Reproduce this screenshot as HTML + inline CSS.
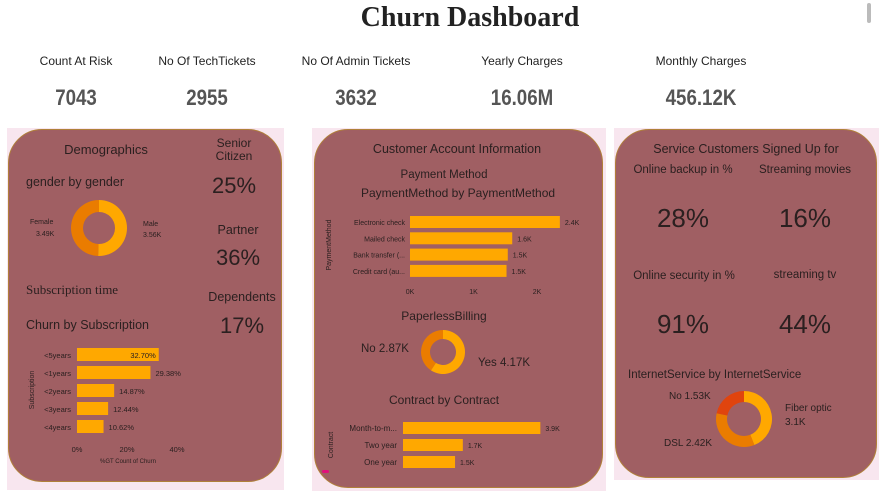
<!DOCTYPE html>
<html><head><meta charset="utf-8">
<style>
body{margin:0;width:887px;height:498px;background:#fff;position:relative;overflow:hidden;font-family:"Liberation Sans",sans-serif;color:#2a2020}
.a{position:absolute;white-space:nowrap}
.c{transform:translateX(-50%)}
.bg{position:absolute;background:#f8e6ef}
.card{position:absolute;background:#a05f63;border:1.5px solid #b0803a;border-radius:34px;box-sizing:border-box}
.kl{font-size:12px;color:#222}
.kv{font-size:22px;font-weight:bold;color:#555;transform:translateX(-50%) scaleX(0.85)}
.big{font-size:22px;color:#2b2020}
.h{font-size:12.5px;color:#2b2020}
svg text{font-family:"Liberation Sans",sans-serif}
</style></head><body>
<div class="a c" style="left:470px;top:2px;font-family:'Liberation Serif',serif;font-weight:bold;font-size:28px;color:#222">Churn Dashboard</div>
<div class="a" style="left:867px;top:3px;width:4px;height:20px;background:#bbb;border-radius:2px"></div>

<div class="a c kl" style="left:76px;top:54px">Count At Risk</div>
<div class="a kv" style="left:76px;top:85px">7043</div>
<div class="a c kl" style="left:207px;top:54px">No Of TechTickets</div>
<div class="a kv" style="left:207px;top:85px">2955</div>
<div class="a c kl" style="left:356px;top:54px">No Of Admin Tickets</div>
<div class="a kv" style="left:356px;top:85px">3632</div>
<div class="a c kl" style="left:522px;top:54px">Yearly Charges</div>
<div class="a kv" style="left:522px;top:85px">16.06M</div>
<div class="a c kl" style="left:701px;top:54px">Monthly Charges</div>
<div class="a kv" style="left:701px;top:85px">456.12K</div>

<div class="bg" style="left:7px;top:128px;width:277px;height:362px"></div>
<div class="bg" style="left:312px;top:128px;width:294px;height:363px"></div>
<div class="bg" style="left:614px;top:128px;width:265px;height:352px"></div>
<div class="card" style="left:8px;top:129px;width:274px;height:353px"></div>
<div class="card" style="left:314px;top:129px;width:289px;height:359px"></div>
<div class="card" style="left:615px;top:129px;width:262px;height:349px"></div>

<!-- card 1 text -->
<div class="a c h" style="left:106px;top:142px;font-size:13px">Demographics</div>
<div class="a h" style="left:26px;top:175px">gender by gender</div>
<div class="a h" style="left:26px;top:282px;font-family:'Liberation Serif',serif;font-size:13px">Subscription time</div>
<div class="a h" style="left:26px;top:318px">Churn by Subscription</div>
<div class="a c h" style="left:234px;top:137px;text-align:center;line-height:13px;font-size:12px">Senior<br>Citizen</div>
<div class="a c big" style="left:234px;top:173px">25%</div>
<div class="a c h" style="left:238px;top:223px">Partner</div>
<div class="a c big" style="left:238px;top:245px">36%</div>
<div class="a c h" style="left:242px;top:290px">Dependents</div>
<div class="a c big" style="left:242px;top:313px">17%</div>

<!-- card 2 text -->
<div class="a c h" style="left:457px;top:142px">Customer Account Information</div>
<div class="a c h" style="left:444px;top:169px;font-size:11.5px">Payment Method</div>
<div class="a c h" style="left:458px;top:186px;font-size:12px">PaymentMethod by PaymentMethod</div>
<div class="a c h" style="left:444px;top:309px;font-size:12px">PaperlessBilling</div>
<div class="a c h" style="left:444px;top:393px;font-size:12px">Contract by Contract</div>
<div class="a" style="left:322px;top:470px;width:7px;height:3px;background:#e0107a;border-radius:2px"></div>

<!-- card 3 text -->
<div class="a c h" style="left:746px;top:142px">Service Customers Signed Up for</div>
<div class="a c h" style="left:683px;top:164px;font-size:11.5px">Online backup in %</div>
<div class="a c big" style="left:683px;top:203px;font-size:26px">28%</div>
<div class="a c h" style="left:805px;top:164px;font-size:11.5px">Streaming movies</div>
<div class="a c big" style="left:805px;top:203px;font-size:26px">16%</div>
<div class="a c h" style="left:684px;top:270px;font-size:11.5px">Online security in %</div>
<div class="a c big" style="left:683px;top:309px;font-size:26px">91%</div>
<div class="a c h" style="left:805px;top:269px;font-size:11.5px">streaming tv</div>
<div class="a c big" style="left:805px;top:309px;font-size:26px">44%</div>
<div class="a h" style="left:628px;top:369px;font-size:11.5px">InternetService by InternetService</div>

<svg id="s" width="887" height="498" style="position:absolute;left:0;top:0"></svg>
<script>
const subCats=["<5years","<1years","<2years","<3years","<4years"];
const subVals=[32.70,29.38,14.87,12.44,10.62];
const subTicks=[0,20,40];
const payCats=["Electronic check","Mailed check","Bank transfer (...","Credit card (au..."];
const payVals=[2.36,1.61,1.54,1.52];
const payLabels=["2.4K","1.6K","1.5K","1.5K"];
const payTicks=[0,1,2];
const conCats=["Month-to-m...","Two year","One year"];
const conVals=[3.88,1.69,1.47];
const conLabels=["3.9K","1.7K","1.5K"];
const genderCats=["Male","Female"];
const genderVals=[3.56,3.49];
const paperCats=["Yes","No"];
const paperVals=[4.17,2.87];
const netCats=["Fiber optic","DSL","No"];
const netVals=[3.10,2.42,1.53];

const s=document.getElementById('s');const NS='http://www.w3.org/2000/svg';
function el(t,a,txt){const e=document.createElementNS(NS,t);for(const k in a)e.setAttribute(k,a[k]);if(txt!==undefined)e.textContent=txt;s.appendChild(e);return e;}
function txt(x,y,t,size,anchor,fam){return el('text',{x:x,y:y,'font-size':size,'text-anchor':anchor||'start',fill:'#2b2020','font-family':fam||'Liberation Sans'},t);}

// subscription bars
const sx=v=>77+v*2.5, sy=i=>348+i*18;
subCats.forEach((c,i)=>{
 const r=el('rect',{x:sx(0),y:sy(i),width:sx(subVals[i])-sx(0),height:13,fill:'#ffa800'});
 
 
 txt(71,sy(i)+10,c,7.5,'end');
 const inside=i===0;
 txt(inside?sx(subVals[i])-3:sx(subVals[i])+5,sy(i)+10,subVals[i].toFixed(2)+'%',7.5,inside?'end':'start');
});
subTicks.forEach(t=>txt(sx(t),452,t+'%',7.5,'middle'));
txt(128,463,'%GT Count of Churn',6,'middle');
const st=txt(34,390,'Subscription',7,'middle');st.setAttribute('transform','rotate(-90 34 390)');

// payment bars
const px=v=>410+v*63.5, py=i=>216+i*16.3;
payCats.forEach((c,i)=>{
 const r=el('rect',{x:px(0),y:py(i),width:px(payVals[i])-px(0),height:12,fill:'#ffa800'});
 
 
 txt(405,py(i)+9,c,7,'end','Liberation Serif');
 txt(px(payVals[i])+5,py(i)+9,payLabels[i],7,'start');
});
payTicks.forEach(t=>txt(px(t),294,t+'K',7,'middle'));
const pt=txt(331,245,'PaymentMethod',7,'middle');pt.setAttribute('transform','rotate(-90 331 245)');

// contract bars
const cx=v=>403+v*35.4, cy=i=>422+i*17;
conCats.forEach((c,i)=>{
 const r=el('rect',{x:cx(0),y:cy(i),width:cx(conVals[i])-cx(0),height:12,fill:'#ffa800'});
 
 
 txt(397,cy(i)+9,c,8,'end');
 txt(cx(conVals[i])+5,cy(i)+9,conLabels[i],7,'start');
});
const ct=txt(333,445,'Contract',7,'middle');ct.setAttribute('transform','rotate(-90 333 445)');

// donuts
function donut(cxp,cyp,R,r,vals,cols,name){
 const tot=vals.reduce((a,b)=>a+b,0);let a0=-Math.PI/2;
 vals.forEach((v,i)=>{
  const a1=a0+v/tot*2*Math.PI,lg=(a1-a0)>Math.PI?1:0;
  const p=(rr,a)=>[cxp+rr*Math.cos(a),cyp+rr*Math.sin(a)];
  const [x1,y1]=p(R,a0),[x2,y2]=p(R,a1),[x3,y3]=p(r,a1),[x4,y4]=p(r,a0);
  const e=el('path',{d:`M${x1} ${y1}A${R} ${R} 0 ${lg} 1 ${x2} ${y2}L${x3} ${y3}A${r} ${r} 0 ${lg} 0 ${x4} ${y4}Z`,fill:cols[i]});
  
  
  a0=a1;
 });
}
donut(99,228,28,16,genderVals,['#ffa800','#ea7c00'],'gender-slice');
txt(30,224,genderCats[1],7,'start');txt(36,236,genderVals[1].toFixed(2)+'K',7,'start');
txt(143,226,genderCats[0],7,'start');txt(143,237,genderVals[0].toFixed(2)+'K',7,'start');
donut(443,352,22,13,paperVals,['#ffa800','#ea7c00'],'paperless-slice');
txt(361,352,paperCats[1]+' '+paperVals[1].toFixed(2)+'K',11.5,'start');
txt(478,366,paperCats[0]+' '+paperVals[0].toFixed(2)+'K',11.5,'start');
donut(744,419,28,17,netVals,['#ffa800','#ea7c00','#e0440e'],'internet-slice');
txt(785,411,netCats[0],10,'start');txt(785,425,netVals[0].toFixed(1)+'K',10,'start');
txt(664,446,netCats[1]+' '+netVals[1].toFixed(2)+'K',10,'start');
txt(669,399,netCats[2]+' '+netVals[2].toFixed(2)+'K',10,'start');
</script>
</body></html>
